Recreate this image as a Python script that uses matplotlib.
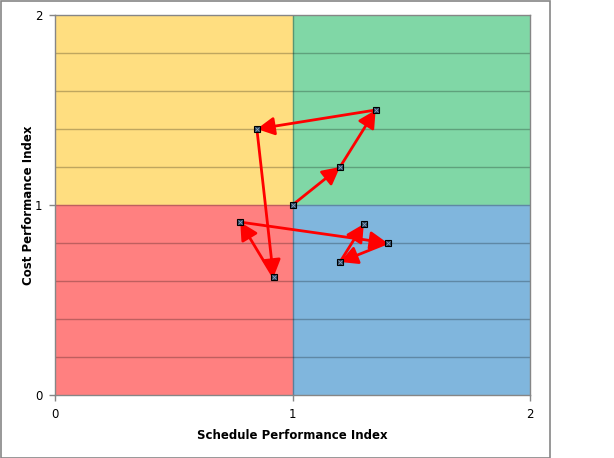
import matplotlib.pyplot as plt
from matplotlib.patches import Rectangle

# SPI / CPI trajectory, in order
spi = [1.0, 1.2, 1.35, 0.85, 0.92, 0.78, 1.4, 1.2, 1.3]
cpi = [1.0, 1.2, 1.5, 1.4, 0.62, 0.91, 0.8, 0.7, 0.9]

x_ticks = [0, 1, 2]
y_ticks = [0, 1, 2]
grid_levels = [0.2, 0.4, 0.6, 0.8, 1.0, 1.2, 1.4, 1.6, 1.8]

W, H = 614, 458
fig = plt.figure(figsize=(W / 100, H / 100), dpi=100)
fig.patches.append(Rectangle((0.5 / W, 0.5 / H), 549 / W, (H - 1.5) / H,
                             transform=fig.transFigure, fill=False,
                             edgecolor='#868686', linewidth=1.2))

ax = fig.add_axes([55 / W, (H - 395) / H, 475 / W, 380 / H])
ax.set_xlim(0, 2)
ax.set_ylim(0, 2)

# quadrants
ax.add_patch(Rectangle((0, 1), 1, 1, color='#FFDE80', zorder=0))
ax.add_patch(Rectangle((1, 1), 1, 1, color='#80D7A6', zorder=0))
ax.add_patch(Rectangle((0, 0), 1, 1, color='#FF8080', zorder=0))
ax.add_patch(Rectangle((1, 0), 1, 1, color='#80B6DD', zorder=0))

for g in grid_levels:
    ax.axhline(g, color='black', alpha=0.25, linewidth=1, zorder=1)
ax.axvline(1, color='black', alpha=0.3, linewidth=1, zorder=1)

# arrows between successive points
for i in range(len(spi) - 1):
    ax.annotate('', xy=(spi[i + 1], cpi[i + 1]), xytext=(spi[i], cpi[i]),
                arrowprops=dict(arrowstyle='-|>,head_length=0.42,head_width=0.22',
                                color='#FF0000', lw=2,
                                mutation_scale=25, shrinkA=0, shrinkB=0),
                zorder=3)

ax.plot(spi, cpi, linestyle='none', marker='s', markersize=4.5,
        markerfacecolor='#26405c', markeredgecolor='black',
        markeredgewidth=0.8, zorder=4)
ax.plot(spi, cpi, linestyle='none', marker='x', markersize=3,
        color='#8aa2bc', markeredgewidth=0.6, zorder=5)

ax.set_xticks(x_ticks)
ax.set_yticks(y_ticks)
ax.set_xticklabels([str(t) for t in x_ticks])
ax.set_yticklabels([str(t) for t in y_ticks])
ax.tick_params(direction='out', length=4, width=1, color='#868686',
               labelsize=8.5, pad=5)
for s in ax.spines.values():
    s.set_color('#868686')
    s.set_linewidth(1)

ax.set_xlabel('Schedule Performance Index', fontsize=8.5, fontweight='bold',
              labelpad=6)
ax.set_ylabel('Cost Performance Index', fontsize=8.5, fontweight='bold',
              labelpad=0)

fig.savefig('out.png', dpi=100)
